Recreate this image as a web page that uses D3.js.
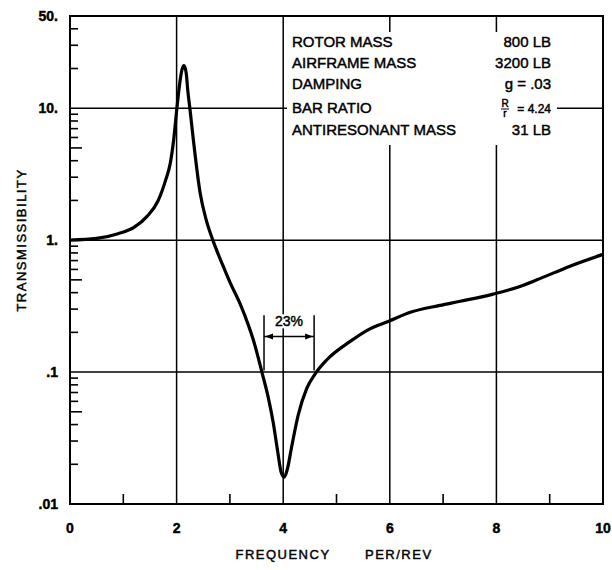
<!DOCTYPE html>
<html>
<head>
<meta charset="utf-8">
<script src="https://cdn.jsdelivr.net/npm/d3@7"></script>
<style>
  html, body { margin: 0; padding: 0; background: #fff; }
  svg { display: block; }
  text { font-family: "Liberation Sans", Arial, sans-serif; fill: #000; stroke: #000; stroke-width: 0.45px; }
</style>
</head>
<body>
<svg id="chart" width="612" height="570"></svg>
<script>
// Transmissibility vs frequency (per rev)
const frequency = [0.0, 0.5, 0.9, 1.2, 1.45, 1.65, 1.8, 1.88, 1.95, 2.0, 2.05, 2.1, 2.14, 2.18, 2.21, 2.25, 2.32, 2.44, 2.55, 2.68, 2.87, 3.0, 3.19, 3.35, 3.44, 3.6, 3.72, 3.81, 3.9, 3.96, 4.02, 4.08, 4.15, 4.28, 4.44, 4.6, 4.82, 5.25, 5.6, 5.97, 6.4, 6.94, 7.32, 7.94, 8.4, 8.76, 9.38, 10.0];
const transmissibility = [1.0, 1.03, 1.12, 1.25, 1.52, 1.98, 2.9, 3.8, 6.0, 9.5, 14.5, 19.5, 21.0, 18.5, 13.6, 9.9, 5.5, 2.3, 1.45, 1.0, 0.64, 0.48, 0.33, 0.225, 0.175, 0.1, 0.064, 0.042, 0.0245, 0.0175, 0.016, 0.0185, 0.026, 0.047, 0.075, 0.097, 0.124, 0.17, 0.21, 0.242, 0.285, 0.32, 0.344, 0.39, 0.44, 0.50, 0.635, 0.78];

const xTicks = [0, 2, 4, 6, 8, 10];
const xTickLabels = ["0", "2", "4", "6", "8", "10"];
const xMinorTicks = [1, 3, 5, 7, 9];
const yTicks = [0.01, 0.1, 1, 10, 50];
const yTickLabels = [".01", ".1", "1.", "10.", "50."];
const xGrid = [2, 4, 6, 8];
const yGrid = [0.1, 1, 10];

const infoLabels = ["ROTOR MASS", "AIRFRAME MASS", "DAMPING", "BAR RATIO", "ANTIRESONANT MASS"];
const infoValues = ["800 LB", "3200 LB", "g = .03", "= 4.24", "31 LB"];

// band marking the antiresonance width
const bandEdges = [3.64, 4.58];
const bandLabel = "23%";

const svg = d3.select("#chart");
const x = d3.scaleLinear().domain([0, 10]).range([70, 603]);
const y = d3.scaleLog().domain([0.01, 50]).range([504, 16]);

// grid lines
const grid = svg.append("g").attr("stroke", "#000").attr("stroke-width", 1.5);
grid.selectAll("line.v").data(xGrid).join("line")
  .attr("x1", d => x(d)).attr("x2", d => x(d))
  .attr("y1", y(50)).attr("y2", y(0.01));
grid.selectAll("line.h").data(yGrid).join("line")
  .attr("x1", x(0)).attr("x2", x(10))
  .attr("y1", d => y(d)).attr("y2", d => y(d));

// y minor ticks (inside, pointing right); the 5 of each decade is longer
const yMinor = [];
[0.01, 0.1, 1].forEach(dec => { for (let k = 2; k <= 9; k++) yMinor.push({ v: dec * k, k }); });
[2, 3, 4].forEach(k => yMinor.push({ v: 10 * k, k }));
svg.append("g").attr("stroke", "#000").attr("stroke-width", 1.6)
  .selectAll("line").data(yMinor).join("line")
  .attr("x1", x(0)).attr("x2", d => x(0) + (d.k === 5 ? 12 : 8))
  .attr("y1", d => y(d.v)).attr("y2", d => y(d.v));

// x minor ticks (inside, pointing up)
svg.append("g").attr("stroke", "#000").attr("stroke-width", 1.6)
  .selectAll("line").data(xMinorTicks).join("line")
  .attr("x1", d => x(d)).attr("x2", d => x(d))
  .attr("y1", y(0.01)).attr("y2", y(0.01) - 10);

// info block with white backing that interrupts the grid
svg.append("rect").attr("x", 287).attr("y", 32).attr("width", 270).attr("height", 113).attr("fill", "#fff");
const rowY = [47, 68, 89, 113, 135];
const info = svg.append("g").attr("font-size", 15);
info.selectAll("text.l").data(infoLabels).join("text")
  .attr("x", 292).attr("y", (d, i) => rowY[i]).text(d => d);
info.selectAll("text.v").data(infoValues).join("text")
  .attr("x", 551).attr("y", (d, i) => rowY[i]).attr("text-anchor", "end")
  .attr("font-size", (d, i) => i === 3 ? 12 : 15)
  .text(d => d);
// R/r fraction on the bar-ratio row
const fx = 505;
info.append("text").attr("x", fx).attr("y", 107).attr("font-size", 10).attr("text-anchor", "middle").text("R");
info.append("line").attr("x1", fx - 4).attr("x2", fx + 4).attr("y1", 109).attr("y2", 109).attr("stroke", "#000").attr("stroke-width", 1);
info.append("text").attr("x", fx).attr("y", 117).attr("font-size", 10).attr("text-anchor", "middle").text("r");

// antiresonance width marker
const ann = svg.append("g").attr("stroke", "#000").attr("stroke-width", 1.5);
ann.selectAll("line").data(bandEdges).join("line")
  .attr("x1", d => x(d)).attr("x2", d => x(d))
  .attr("y1", y(0.27)).attr("y2", y(0.103));
const ay = y(0.186);
ann.append("line").attr("x1", x(bandEdges[0])).attr("x2", x(bandEdges[1])).attr("y1", ay).attr("y2", ay);
const ah = d3.path();
ah.moveTo(x(bandEdges[0]) + 1, ay); ah.lineTo(x(bandEdges[0]) + 9, ay - 3); ah.lineTo(x(bandEdges[0]) + 9, ay + 3); ah.closePath();
ah.moveTo(x(bandEdges[1]) - 1, ay); ah.lineTo(x(bandEdges[1]) - 9, ay - 3); ah.lineTo(x(bandEdges[1]) - 9, ay + 3); ah.closePath();
svg.append("path").attr("d", ah.toString()).attr("fill", "#000");
const midF = (bandEdges[0] + bandEdges[1]) / 2;
svg.append("rect").attr("x", x(midF) - 14).attr("y", y(0.222) - 12).attr("width", 28).attr("height", 14).attr("fill", "#fff");
svg.append("text").attr("x", x(midF)).attr("y", y(0.222)).attr("text-anchor", "middle").attr("font-size", 14).text(bandLabel);

// curve
const line = d3.line().x(d => x(d[0])).y(d => y(d[1])).curve(d3.curveMonotoneX);
svg.append("path").datum(frequency.map((f, i) => [f, transmissibility[i]]))
  .attr("d", line).attr("fill", "none").attr("stroke", "#000").attr("stroke-width", 3.2)
  .attr("stroke-linejoin", "round");

// frame
svg.append("rect").attr("x", x(0)).attr("y", y(50)).attr("width", x(10) - x(0)).attr("height", y(0.01) - y(50))
  .attr("fill", "none").attr("stroke", "#000").attr("stroke-width", 2);

// tick labels
svg.append("g").attr("font-size", 14).attr("font-weight", "bold")
  .selectAll("text").data(yTicks).join("text")
  .attr("x", 58).attr("y", d => y(d) + 5).attr("text-anchor", "end")
  .text((d, i) => yTickLabels[i]);
svg.append("g").attr("font-size", 14).attr("font-weight", "bold")
  .selectAll("text").data(xTicks).join("text")
  .attr("x", d => x(d)).attr("y", 533).attr("text-anchor", "middle")
  .text((d, i) => xTickLabels[i]);

// axis titles
svg.append("text").attr("transform", "translate(26,240) rotate(-90)")
  .attr("text-anchor", "middle").attr("font-size", 13).attr("letter-spacing", 1.5).text("TRANSMISSIBILITY");
svg.append("text").attr("x", 283).attr("y", 559).attr("text-anchor", "middle")
  .attr("font-size", 13).attr("letter-spacing", 1.5).text("FREQUENCY");
svg.append("text").attr("x", 365).attr("y", 559)
  .attr("font-size", 13).attr("letter-spacing", 1.5).text("PER/REV");
</script>
</body>
</html>
